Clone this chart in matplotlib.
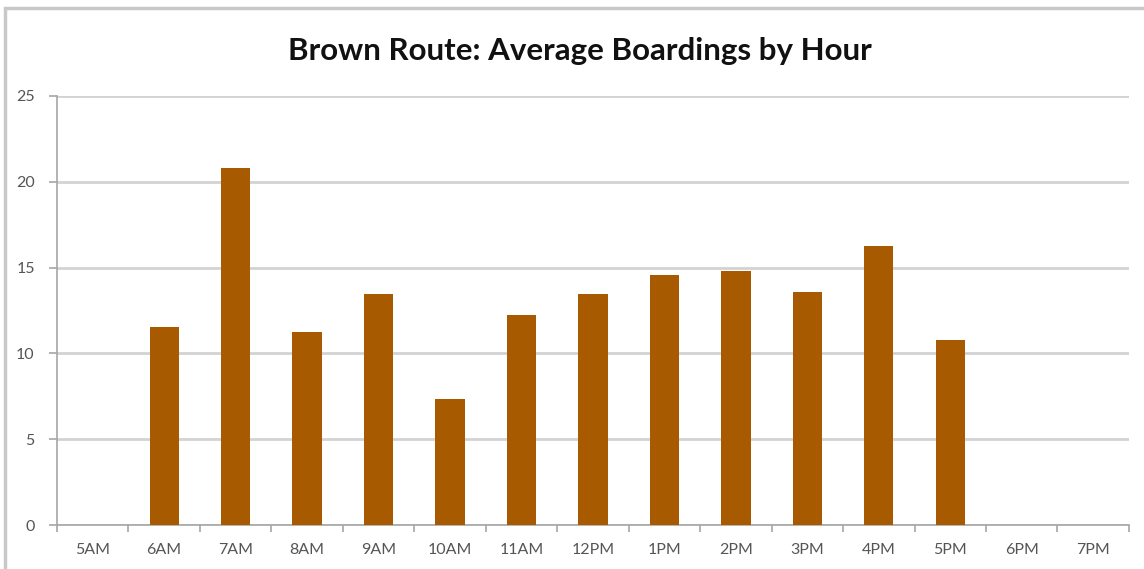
import numpy as np
import matplotlib.pyplot as plt
from matplotlib.patches import Rectangle

# Datos
horas = ['5AM', '6AM', '7AM', '8AM', '9AM', '10AM', '11AM', '12PM',
         '1PM', '2PM', '3PM', '4PM', '5PM', '6PM', '7PM']
abordajes = [0, 11.55, 20.8, 11.25, 13.45, 7.35, 12.25, 13.45,
             14.55, 14.8, 13.55, 16.25, 10.8, 0, 0]

plt.rcParams['font.family'] = ['Lato', 'DejaVu Sans']

fig = plt.figure(figsize=(11.44, 5.69), dpi=100)
ax = fig.add_axes([0.0498, 0.0773, 0.937, 0.754])

x = np.arange(len(horas))
ax.bar(x, abordajes, width=0.41, color='#A85A00', zorder=3)

ax.set_xlim(-0.5, len(horas) - 0.5)
ax.set_ylim(0, 25)
ax.set_yticks([0, 5, 10, 15, 20, 25])
ax.set_xticks(x)
ax.set_xticklabels(horas)
ax.set_xticks(np.arange(-0.5, len(horas), 1), minor=True)

ax.grid(axis='y', color='#D3D3D3', linewidth=2, zorder=0)
for s in ['top', 'right']:
    ax.spines[s].set_visible(False)
for s in ['left', 'bottom']:
    ax.spines[s].set_color('#A6A6A6')
    ax.spines[s].set_linewidth(1.2)

ax.tick_params(axis='x', which='major', length=0, pad=13, labelsize=11.5, colors='#555555')
ax.tick_params(axis='x', which='minor', length=5, color='#A6A6A6', width=1.2)
ax.tick_params(axis='y', length=6, color='#A6A6A6', width=1.2, pad=10, labelsize=11.5,
               labelcolor='#555555')

fig.text(0.507, 0.91, 'Brown Route: Average Boardings by Hour', ha='center', va='center',
         fontsize=22.5, fontweight='bold', color='#111111')

# marco del grafico
fig.patches.append(Rectangle((5 / 1144, -0.05), 1.1, 1 - 8 / 569 + 0.05,
                             transform=fig.transFigure, fill=False,
                             edgecolor='#C8C8C8', linewidth=2.5))

fig.savefig('out.png', dpi=100)
